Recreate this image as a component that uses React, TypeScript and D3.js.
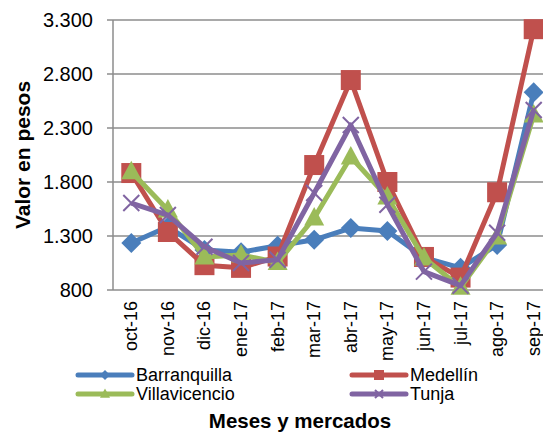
import React from "react";
import * as d3 from "d3";

const months = ["oct-16","nov-16","dic-16","ene-17","feb-17","mar-17","abr-17","may-17","jun-17","jul-17","ago-17","sep-17"];
const barranquilla = [1235,1385,1170,1150,1210,1265,1374,1346,1100,1005,1217,2630];
const medellin = [1883,1337,1030,1005,1110,1957,2744,1800,1106,915,1705,3215];
const villavicencio = [1895,1540,1106,1125,1055,1467,2031,1661,1096,825,1290,2420];
const tunja = [1605,1494,1200,1050,1080,1698,2328,1590,970,840,1330,2467];
const yTicks = [800,1300,1800,2300,2800,3300];

const seriesNames = ["Barranquilla","Medellín","Villavicencio","Tunja"];
const seriesColors = ["#4A7EBB","#C0504D","#9BBB59","#8064A2"];
const seriesMarkers = ["diamond","square","triangle","x"];

export default function App() {
  const W = 543, H = 432;
  const left = 113, top = 20, bottom = 290, right = 552;
  const x = d3.scaleBand().domain(months).range([left, right]);
  const y = d3.scaleLinear().domain([800, 3300]).range([bottom, top]);
  const data = [barranquilla, medellin, villavicencio, tunja];
  const line = d3.line<number>().x((_, i) => (x(months[i]) as number) + x.bandwidth() / 2).y(d => y(d));
  const fmt = (v: number) => d3.format(",")(v).replace(/,/g, ".");

  const marker = (type: string, cx: number, cy: number, color: string, key: string | number, scale = 1) => {
    if (type === "square") { const s = 10 * scale; return <rect key={key} x={cx - s} y={cy - s} width={2 * s} height={2 * s} fill={color} />; }
    if (type === "diamond") { const s = 10 * scale; return <path key={key} d={`M${cx},${cy - s}L${cx + s},${cy}L${cx},${cy + s}L${cx - s},${cy}Z`} fill={color} />; }
    if (type === "triangle") { const s = 10 * scale; return <path key={key} d={`M${cx},${cy - s * 1.1}L${cx + s},${cy + s * 0.75}L${cx - s},${cy + s * 0.75}Z`} fill={color} />; }
    const s = 8 * scale;
    return <path key={key} d={`M${cx - s},${cy - s}L${cx + s},${cy + s}M${cx - s},${cy + s}L${cx + s},${cy - s}`} stroke={color} strokeWidth={2} fill="none" />;
  };

  const legendItems = [
    { i: 0, lx: 78, ty: 375 },
    { i: 1, lx: 352, ty: 375 },
    { i: 2, lx: 78, ty: 394 },
    { i: 3, lx: 352, ty: 394 },
  ];

  return (
    <svg width={W} height={H} style={{ position: "absolute", left: 0, top: 0, fontFamily: "Liberation Sans, Arial, sans-serif" }}>
      <rect width={W} height={H} fill="#fff" />
      {yTicks.map(t => (
        <g key={t}>
          <line x1={left - 6} x2={right} y1={y(t)} y2={y(t)} stroke="#8c8c8c" strokeWidth={1.5} />
          <text x={93} y={y(t)} dy="0.36em" textAnchor="end" fontSize={20} fill="#000">{fmt(t)}</text>
        </g>
      ))}
      <line x1={left} x2={left} y1={top} y2={bottom} stroke="#8c8c8c" strokeWidth={1.5} />
      {months.map(m => {
        const cx = (x(m) as number) + x.bandwidth() / 2;
        return <text key={m} transform={`translate(${cx + 6},${301}) rotate(-90)`} textAnchor="end" fontSize={18} fill="#000">{m}</text>;
      })}
      {data.map((d, si) => (
        <g key={si}>
          <path d={line(d) || ""} fill="none" stroke={seriesColors[si]} strokeWidth={5} strokeLinejoin="round" />
          {d.map((v, i) => marker(seriesMarkers[si], (x(months[i]) as number) + x.bandwidth() / 2, y(v), seriesColors[si], i))}
        </g>
      ))}
      <text transform={`translate(30,155) rotate(-90)`} textAnchor="middle" fontSize={21} fontWeight="bold" fill="#000">Valor en pesos</text>
      {legendItems.map(({ i, lx, ty }) => (
        <g key={i}>
          <line x1={lx} x2={lx + 54} y1={ty} y2={ty} stroke={seriesColors[i]} strokeWidth={5} strokeLinecap="round" />
          {marker(seriesMarkers[i], lx + 27, ty, seriesColors[i], "m", 0.5)}
          <text x={lx + 58} y={ty} dy="0.36em" fontSize={18} fill="#000">{seriesNames[i]}</text>
        </g>
      ))}
      <text x={300} y={428} textAnchor="middle" fontSize={20.5} fontWeight="bold" fill="#000">Meses y mercados</text>
    </svg>
  );
}
